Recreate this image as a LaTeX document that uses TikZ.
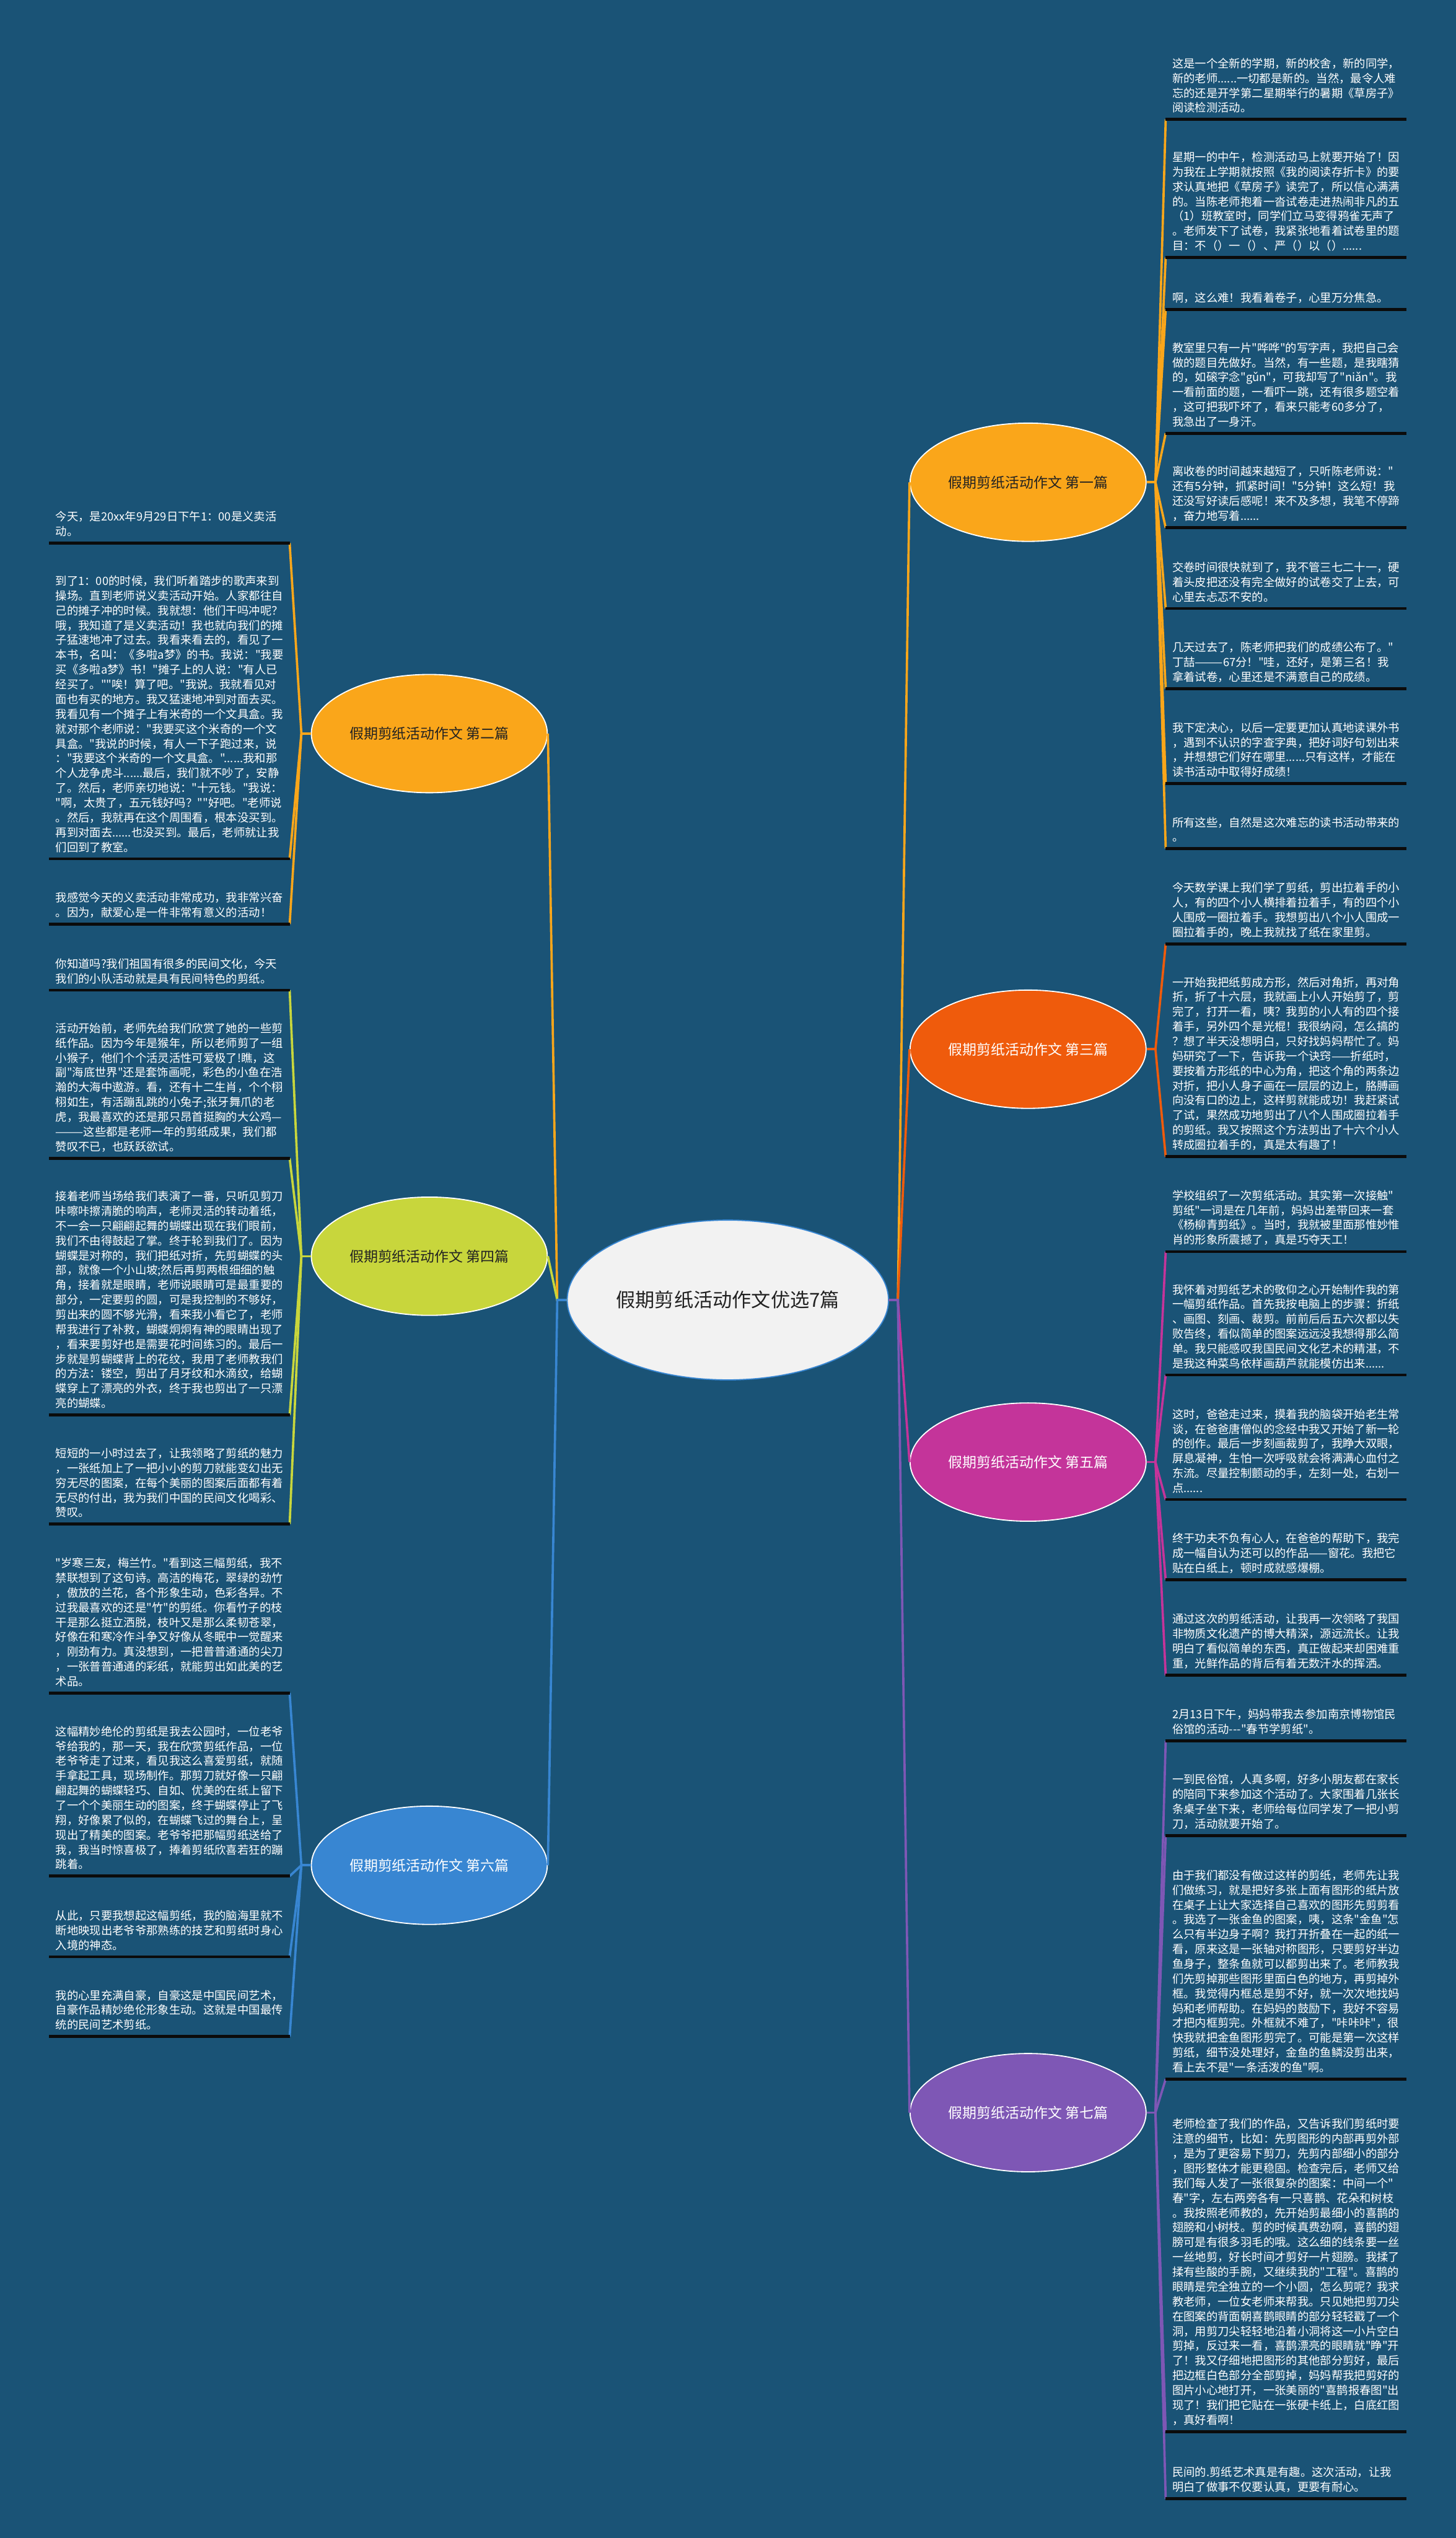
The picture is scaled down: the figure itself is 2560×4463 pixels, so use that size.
\documentclass[tikz,border=0pt]{standalone}
\usepackage{fontspec}
\setmainfont{Noto Sans CJK SC}[Ligatures=TeXOff]
\usetikzlibrary{shapes.geometric}
\definecolor{bgblue}{HTML}{1A5376}
\definecolor{cOne}{HTML}{FAA61A}
\definecolor{cThree}{HTML}{EF5B0C}
\definecolor{cFour}{HTML}{C8D63C}
\definecolor{cFive}{HTML}{C4349A}
\definecolor{cSix}{HTML}{3886D2}
\definecolor{cSeven}{HTML}{7E57B5}
\definecolor{darktext}{HTML}{222222}
\definecolor{ulcol}{HTML}{0B0B0B}
\tikzset{branch/.style={ellipse, draw=white, line width=2pt, minimum width=415pt,
    minimum height=208pt, inner sep=0pt, font=\fontsize{25}{30}\selectfont}}
\tikzset{leaf/.style={anchor=south west, text width=400pt, align=left, inner xsep=11.5pt,
    inner ysep=11pt, text=white, font=\fontsize{20}{26}\selectfont}}
\tikzset{uline/.style={draw=ulcol, line width=5pt}}
\tikzset{link/.style={line width=4pt}}

\begin{document}
\begin{tikzpicture}[x=1pt, y=-1pt]       % mind map
    \fill[bgblue] (0,0) rectangle (2560,4463);
    \useasboundingbox (0,0) rectangle (2560,4463);

    \node[ellipse, draw=cSix, line width=2pt, fill=white!95!black, minimum width=562pt,
      minimum height=281pt, text=darktext, font=\fontsize{34}{40}\selectfont]
      at (1280, 2286) (main) {假期剪纸活动作文优选7篇};

    \node[branch, fill=cOne, text=darktext] at (1808, 848) (b1) {假期剪纸活动作文 第一篇};
    \node[branch, fill=cOne, text=darktext] at (755, 1290) (b2) {假期剪纸活动作文 第二篇};
    \node[branch, fill=cThree, text=white] at (1808, 1845) (b3) {假期剪纸活动作文 第三篇};
    \node[branch, fill=cFour, text=darktext] at (755, 2209) (b4) {假期剪纸活动作文 第四篇};
    \node[branch, fill=cFive, text=white] at (1808, 2571) (b5) {假期剪纸活动作文 第五篇};
    \node[branch, fill=cSix, text=white] at (755, 3280) (b6) {假期剪纸活动作文 第六篇};
    \node[branch, fill=cSeven, text=white] at (1808, 3715) (b7) {假期剪纸活动作文 第七篇};

    \coordinate (rj) at (1579, 2286);
    \coordinate (lj) at (980, 2286);
    \coordinate (f1) at (2032, 848);
    \coordinate (f3) at (2032, 1845);
    \coordinate (f5) at (2032, 2571);
    \coordinate (f7) at (2032, 3715);
    \coordinate (f2) at (530, 1290);
    \coordinate (f4) at (530, 2209);
    \coordinate (f6) at (530, 3280);

    % right side texts
    \node[leaf] at (2050, 210) (r1a) {这是一个全新的学期，新的校舍，新的同学，\\新的老师......一切都是新的。当然，最令人难\\忘的还是开学第二星期举行的暑期《草房子》\\阅读检测活动。};
    \node[leaf] at (2050, 453) (r1b) {星期一的中午，检测活动马上就要开始了！因\\为我在上学期就按照《我的阅读存折卡》的要\\求认真地把《草房子》读完了，所以信心满满\\的。当陈老师抱着一沓试卷走进热闹非凡的五\\（1）班教室时，同学们立马变得鸦雀无声了\\。老师发下了试卷，我紧张地看着试卷里的题\\目：不（）一（）、严（）以（）......};
    \node[leaf] at (2050, 544) (r1c) {啊，这么难！我看着卷子，心里万分焦急。};
    \node[leaf] at (2050, 762) (r1d) {教室里只有一片"哗哗"的写字声，我把自己会\\做的题目先做好。当然，有一些题，是我瞎猜\\的，如磙字念"gǔn"，可我却写了"niǎn"。我\\一看前面的题，一看吓一跳，还有很多题空着\\，这可把我吓坏了，看来只能考60多分了，\\我急出了一身汗。};
    \node[leaf] at (2050, 928) (r1e) {离收卷的时间越来越短了，只听陈老师说："\\还有5分钟，抓紧时间！"5分钟！这么短！我\\还没写好读后感呢！来不及多想，我笔不停蹄\\，奋力地写着......};
    \node[leaf] at (2050, 1070) (r1f) {交卷时间很快就到了，我不管三七二十一，硬\\着头皮把还没有完全做好的试卷交了上去，可\\心里去忐忑不安的。};
    \node[leaf] at (2050, 1211) (r1g) {几天过去了，陈老师把我们的成绩公布了。"\\丁喆———67分！"哇，还好，是第三名！我\\拿着试卷，心里还是不满意自己的成绩。};
    \node[leaf] at (2050, 1378) (r1h) {我下定决心，以后一定要更加认真地读课外书\\，遇到不认识的字查字典，把好词好句划出来\\，并想想它们好在哪里......只有这样，才能在\\读书活动中取得好成绩！};
    \node[leaf] at (2050, 1492) (r1i) {所有这些，自然是这次难忘的读书活动带来的\\。};

    \node[leaf] at (2050, 1660) (r3a) {今天数学课上我们学了剪纸，剪出拉着手的小\\人，有的四个小人横排着拉着手，有的四个小\\人围成一圈拉着手。我想剪出八个小人围成一\\圈拉着手的，晚上我就找了纸在家里剪。};
    \node[leaf] at (2050, 2034) (r3b) {一开始我把纸剪成方形，然后对角折，再对角\\折，折了十六层，我就画上小人开始剪了，剪\\完了，打开一看，咦？我剪的小人有的四个接\\着手，另外四个是光棍！我很纳闷，怎么搞的\\？想了半天没想明白，只好找妈妈帮忙了。妈\\妈研究了一下，告诉我一个诀窍——折纸时，\\要按着方形纸的中心为角，把这个角的两条边\\对折，把小人身子画在一层层的边上，胳膊画\\向没有口的边上，这样剪就能成功！我赶紧试\\了试，果然成功地剪出了八个人围成圈拉着手\\的剪纸。我又按照这个方法剪出了十六个小人\\转成圈拉着手的，真是太有趣了！};

    \node[leaf] at (2050, 2201) (r5a) {学校组织了一次剪纸活动。其实第一次接触"\\剪纸"一词是在几年前，妈妈出差带回来一套\\《杨柳青剪纸》。当时，我就被里面那惟妙惟\\肖的形象所震撼了，真是巧夺天工！};
    \node[leaf] at (2050, 2418) (r5b) {我怀着对剪纸艺术的敬仰之心开始制作我的第\\一幅剪纸作品。首先我按电脑上的步骤：折纸\\、画图、刻画、裁剪。前前后后五六次都以失\\败告终，看似简单的图案远远没我想得那么简\\单。我只能感叹我国民间文化艺术的精湛，不\\是我这种菜鸟依样画葫芦就能模仿出来......};
    \node[leaf] at (2050, 2637) (r5c) {这时，爸爸走过来，摸着我的脑袋开始老生常\\谈，在爸爸唐僧似的念经中我又开始了新一轮\\的创作。最后一步刻画裁剪了，我睁大双眼，\\屏息凝神，生怕一次呼吸就会将满满心血付之\\东流。尽量控制颤动的手，左刻一处，右划一\\点......};
    \node[leaf] at (2050, 2778) (r5d) {终于功夫不负有心人，在爸爸的帮助下，我完\\成一幅自认为还可以的作品——窗花。我把它\\贴在白纸上，顿时成就感爆棚。};
    \node[leaf] at (2050, 2946) (r5e) {通过这次的剪纸活动，让我再一次领略了我国\\非物质文化遗产的博大精深，源远流长。让我\\明白了看似简单的东西，真正做起来却困难重\\重，光鲜作品的背后有着无数汗水的挥洒。};

    \node[leaf] at (2050, 3061) (r7a) {2月13日下午，妈妈带我去参加南京博物馆民\\俗馆的活动---"春节学剪纸"。};
    \node[leaf] at (2050, 3228) (r7b) {一到民俗馆，人真多啊，好多小朋友都在家长\\的陪同下来参加这个活动了。大家围着几张长\\条桌子坐下来，老师给每位同学发了一把小剪\\刀，活动就要开始了。};
    \node[leaf] at (2050, 3656) (r7c) {由于我们都没有做过这样的剪纸，老师先让我\\们做练习，就是把好多张上面有图形的纸片放\\在桌子上让大家选择自己喜欢的图形先剪剪看\\。我选了一张金鱼的图案，咦，这条"金鱼"怎\\么只有半边身子啊？我打开折叠在一起的纸一\\看，原来这是一张轴对称图形，只要剪好半边\\鱼身子，整条鱼就可以都剪出来了。老师教我\\们先剪掉那些图形里面白色的地方，再剪掉外\\框。我觉得内框总是剪不好，就一次次地找妈\\妈和老师帮助。在妈妈的鼓励下，我好不容易\\才把内框剪完。外框就不难了，"咔咔咔"，很\\快我就把金鱼图形剪完了。可能是第一次这样\\剪纸，细节没处理好，金鱼的鱼鳞没剪出来，\\看上去不是"一条活泼的鱼"啊。};
    \node[leaf] at (2050, 4276) (r7d) {老师检查了我们的作品，又告诉我们剪纸时要\\注意的细节，比如：先剪图形的内部再剪外部\\，是为了更容易下剪刀，先剪内部细小的部分\\，图形整体才能更稳固。检查完后，老师又给\\我们每人发了一张很复杂的图案：中间一个"\\春"字，左右两旁各有一只喜鹊、花朵和树枝\\。我按照老师教的，先开始剪最细小的喜鹊的\\翅膀和小树枝。剪的时候真费劲啊，喜鹊的翅\\膀可是有很多羽毛的哦。这么细的线条要一丝\\一丝地剪，好长时间才剪好一片翅膀。我揉了\\揉有些酸的手腕，又继续我的"工程"。喜鹊的\\眼睛是完全独立的一个小圆，怎么剪呢？我求\\教老师，一位女老师来帮我。只见她把剪刀尖\\在图案的背面朝喜鹊眼睛的部分轻轻戳了一个\\洞，用剪刀尖轻轻地沿着小洞将这一小片空白\\剪掉，反过来一看，喜鹊漂亮的眼睛就"睁"开\\了！我又仔细地把图形的其他部分剪好，最后\\把边框白色部分全部剪掉，妈妈帮我把剪好的\\图片小心地打开，一张美丽的"喜鹊报春图"出\\现了！我们把它贴在一张硬卡纸上，白底红图\\，真好看啊！};
    \node[leaf] at (2050, 4394) (r7e) {民间的.剪纸艺术真是有趣。这次活动，让我\\明白了做事不仅要认真，更要有耐心。};

    % left side texts
    \node[leaf] at (86, 955) (l2a) {今天，是20xx年9月29日下午1：00是义卖活\\动。};
    \node[leaf] at (86, 1510) (l2b) {到了1：00的时候，我们听着踏步的歌声来到\\操场。直到老师说义卖活动开始。人家都往自\\己的摊子冲的时候。我就想：他们干吗冲呢？\\哦，我知道了是义卖活动！我也就向我们的摊\\子猛速地冲了过去。我看来看去的，看见了一\\本书，名叫：《多啦a梦》的书。我说："我要\\买《多啦a梦》书！"摊子上的人说："有人已\\经买了。""唉！算了吧。"我说。我就看见对\\面也有买的地方。我又猛速地冲到对面去买。\\我看见有一个摊子上有米奇的一个文具盒。我\\就对那个老师说："我要买这个米奇的一个文\\具盒。"我说的时候，有人一下子跑过来，说\\："我要这个米奇的一个文具盒。"......我和那\\个人龙争虎斗......最后，我们就不吵了，安静\\了。然后，老师亲切地说："十元钱。"我说：\\"啊，太贵了，五元钱好吗？""好吧。"老师说\\。然后，我就再在这个周围看，根本没买到。\\再到对面去......也没买到。最后，老师就让我\\们回到了教室。};
    \node[leaf] at (86, 1625) (l2c) {我感觉今天的义卖活动非常成功，我非常兴奋\\。因为，献爱心是一件非常有意义的活动！};

    \node[leaf] at (86, 1741) (l4a) {你知道吗?我们祖国有很多的民间文化，今天\\我们的小队活动就是具有民间特色的剪纸。};
    \node[leaf] at (86, 2037) (l4b) {活动开始前，老师先给我们欣赏了她的一些剪\\纸作品。因为今年是猴年，所以老师剪了一组\\小猴子，他们个个活灵活性可爱极了!瞧，这\\副"海底世界"还是套饰画呢，彩色的小鱼在浩\\瀚的大海中遨游。看，还有十二生肖，个个栩\\栩如生，有活蹦乱跳的小兔子;张牙舞爪的老\\虎，我最喜欢的还是那只昂首挺胸的大公鸡—\\———这些都是老师一年的剪纸成果，我们都\\赞叹不已，也跃跃欲试。};
    \node[leaf] at (86, 2488) (l4c) {接着老师当场给我们表演了一番，只听见剪刀\\咔嚓咔擦清脆的响声，老师灵活的转动着纸，\\不一会一只翩翩起舞的蝴蝶出现在我们眼前，\\我们不由得鼓起了掌。终于轮到我们了。因为\\蝴蝶是对称的，我们把纸对折，先剪蝴蝶的头\\部，就像一个小山坡;然后再剪两根细细的触\\角，接着就是眼睛，老师说眼睛可是最重要的\\部分，一定要剪的圆，可是我控制的不够好，\\剪出来的圆不够光滑，看来我小看它了，老师\\帮我进行了补救，蝴蝶炯炯有神的眼睛出现了\\，看来要剪好也是需要花时间练习的。最后一\\步就是剪蝴蝶背上的花纹，我用了老师教我们\\的方法：镂空，剪出了月牙纹和水滴纹，给蝴\\蝶穿上了漂亮的外衣，终于我也剪出了一只漂\\亮的蝴蝶。};
    \node[leaf] at (86, 2680) (l4d) {短短的一小时过去了，让我领略了剪纸的魅力\\，一张纸加上了一把小小的剪刀就能变幻出无\\穷无尽的图案，在每个美丽的图案后面都有着\\无尽的付出，我为我们中国的民间文化喝彩、\\赞叹。};

    \node[leaf] at (86, 2977) (l6a) {"岁寒三友，梅兰竹。"看到这三幅剪纸，我不\\禁联想到了这句诗。高洁的梅花，翠绿的劲竹\\，傲放的兰花，各个形象生动，色彩各异。不\\过我最喜欢的还是"竹"的剪纸。你看竹子的枝\\干是那么挺立洒脱，枝叶又是那么柔韧苍翠，\\好像在和寒冷作斗争又好像从冬眠中一觉醒来\\，刚劲有力。真没想到，一把普普通通的尖刀\\，一张普普通通的彩纸，就能剪出如此美的艺\\术品。};
    \node[leaf] at (86, 3299) (l6b) {这幅精妙绝伦的剪纸是我去公园时，一位老爷\\爷给我的，那一天，我在欣赏剪纸作品，一位\\老爷爷走了过来，看见我这么喜爱剪纸，就随\\手拿起工具，现场制作。那剪刀就好像一只翩\\翩起舞的蝴蝶轻巧、自如、优美的在纸上留下\\了一个个美丽生动的图案，终于蝴蝶停止了飞\\翔，好像累了似的，在蝴蝶飞过的舞台上，呈\\现出了精美的图案。老爷爷把那幅剪纸送给了\\我，我当时惊喜极了，捧着剪纸欣喜若狂的蹦\\跳着。};
    \node[leaf] at (86, 3441) (l6c) {从此，只要我想起这幅剪纸，我的脑海里就不\\断地映现出老爷爷那熟练的技艺和剪纸时身心\\入境的神态。};
    \node[leaf] at (86, 3581) (l6d) {我的心里充满自豪，自豪这是中国民间艺术，\\自豪作品精妙绝伦形象生动。这就是中国最传\\统的民间艺术剪纸。};

    % trunks
    \draw[link, cOne] (main.east) -- (rj) -- (b1.west);
    \draw[link, cThree] (main.east) -- (rj) -- (b3.west);
    \draw[link, cFive] (main.east) -- (rj) -- (b5.west);
    \draw[link, cSeven] (main.east) -- (rj) -- (b7.west);
    \draw[link, cOne] (main.west) -- (lj) -- (b2.east);
    \draw[link, cFour] (main.west) -- (lj) -- (b4.east);
    \draw[link, cSix] (main.west) -- (lj) -- (b6.east);

    % fans
    \draw[link, cOne] (b1.east) -- (f1);
    \foreach \n in {r1a,r1b,r1c,r1d,r1e,r1f,r1g,r1h,r1i}
      \draw[link, cOne] (f1) -- (\n.south west);
    \draw[link, cThree] (b3.east) -- (f3);
    \foreach \n in {r3a,r3b}
      \draw[link, cThree] (f3) -- (\n.south west);
    \draw[link, cFive] (b5.east) -- (f5);
    \foreach \n in {r5a,r5b,r5c,r5d,r5e}
      \draw[link, cFive] (f5) -- (\n.south west);
    \draw[link, cSeven] (b7.east) -- (f7);
    \foreach \n in {r7a,r7b,r7c,r7d,r7e}
      \draw[link, cSeven] (f7) -- (\n.south west);
    \draw[link, cOne] (b2.west) -- (f2);
    \foreach \n in {l2a,l2b,l2c}
      \draw[link, cOne] (f2) -- (\n.south east);
    \draw[link, cFour] (b4.west) -- (f4);
    \foreach \n in {l4a,l4b,l4c,l4d}
      \draw[link, cFour] (f4) -- (\n.south east);
    \draw[link, cSix] (b6.west) -- (f6);
    \foreach \n in {l6a,l6b,l6c,l6d}
      \draw[link, cSix] (f6) -- (\n.south east);

    % underlines
    \foreach \n in {r1a,r1b,r1c,r1d,r1e,r1f,r1g,r1h,r1i,r3a,r3b,r5a,r5b,r5c,r5d,r5e,
        r7a,r7b,r7c,r7d,r7e,l2a,l2b,l2c,l4a,l4b,l4c,l4d,l6a,l6b,l6c,l6d}
      \draw[uline] (\n.south west) -- (\n.south east);
\end{tikzpicture}
\end{document}
